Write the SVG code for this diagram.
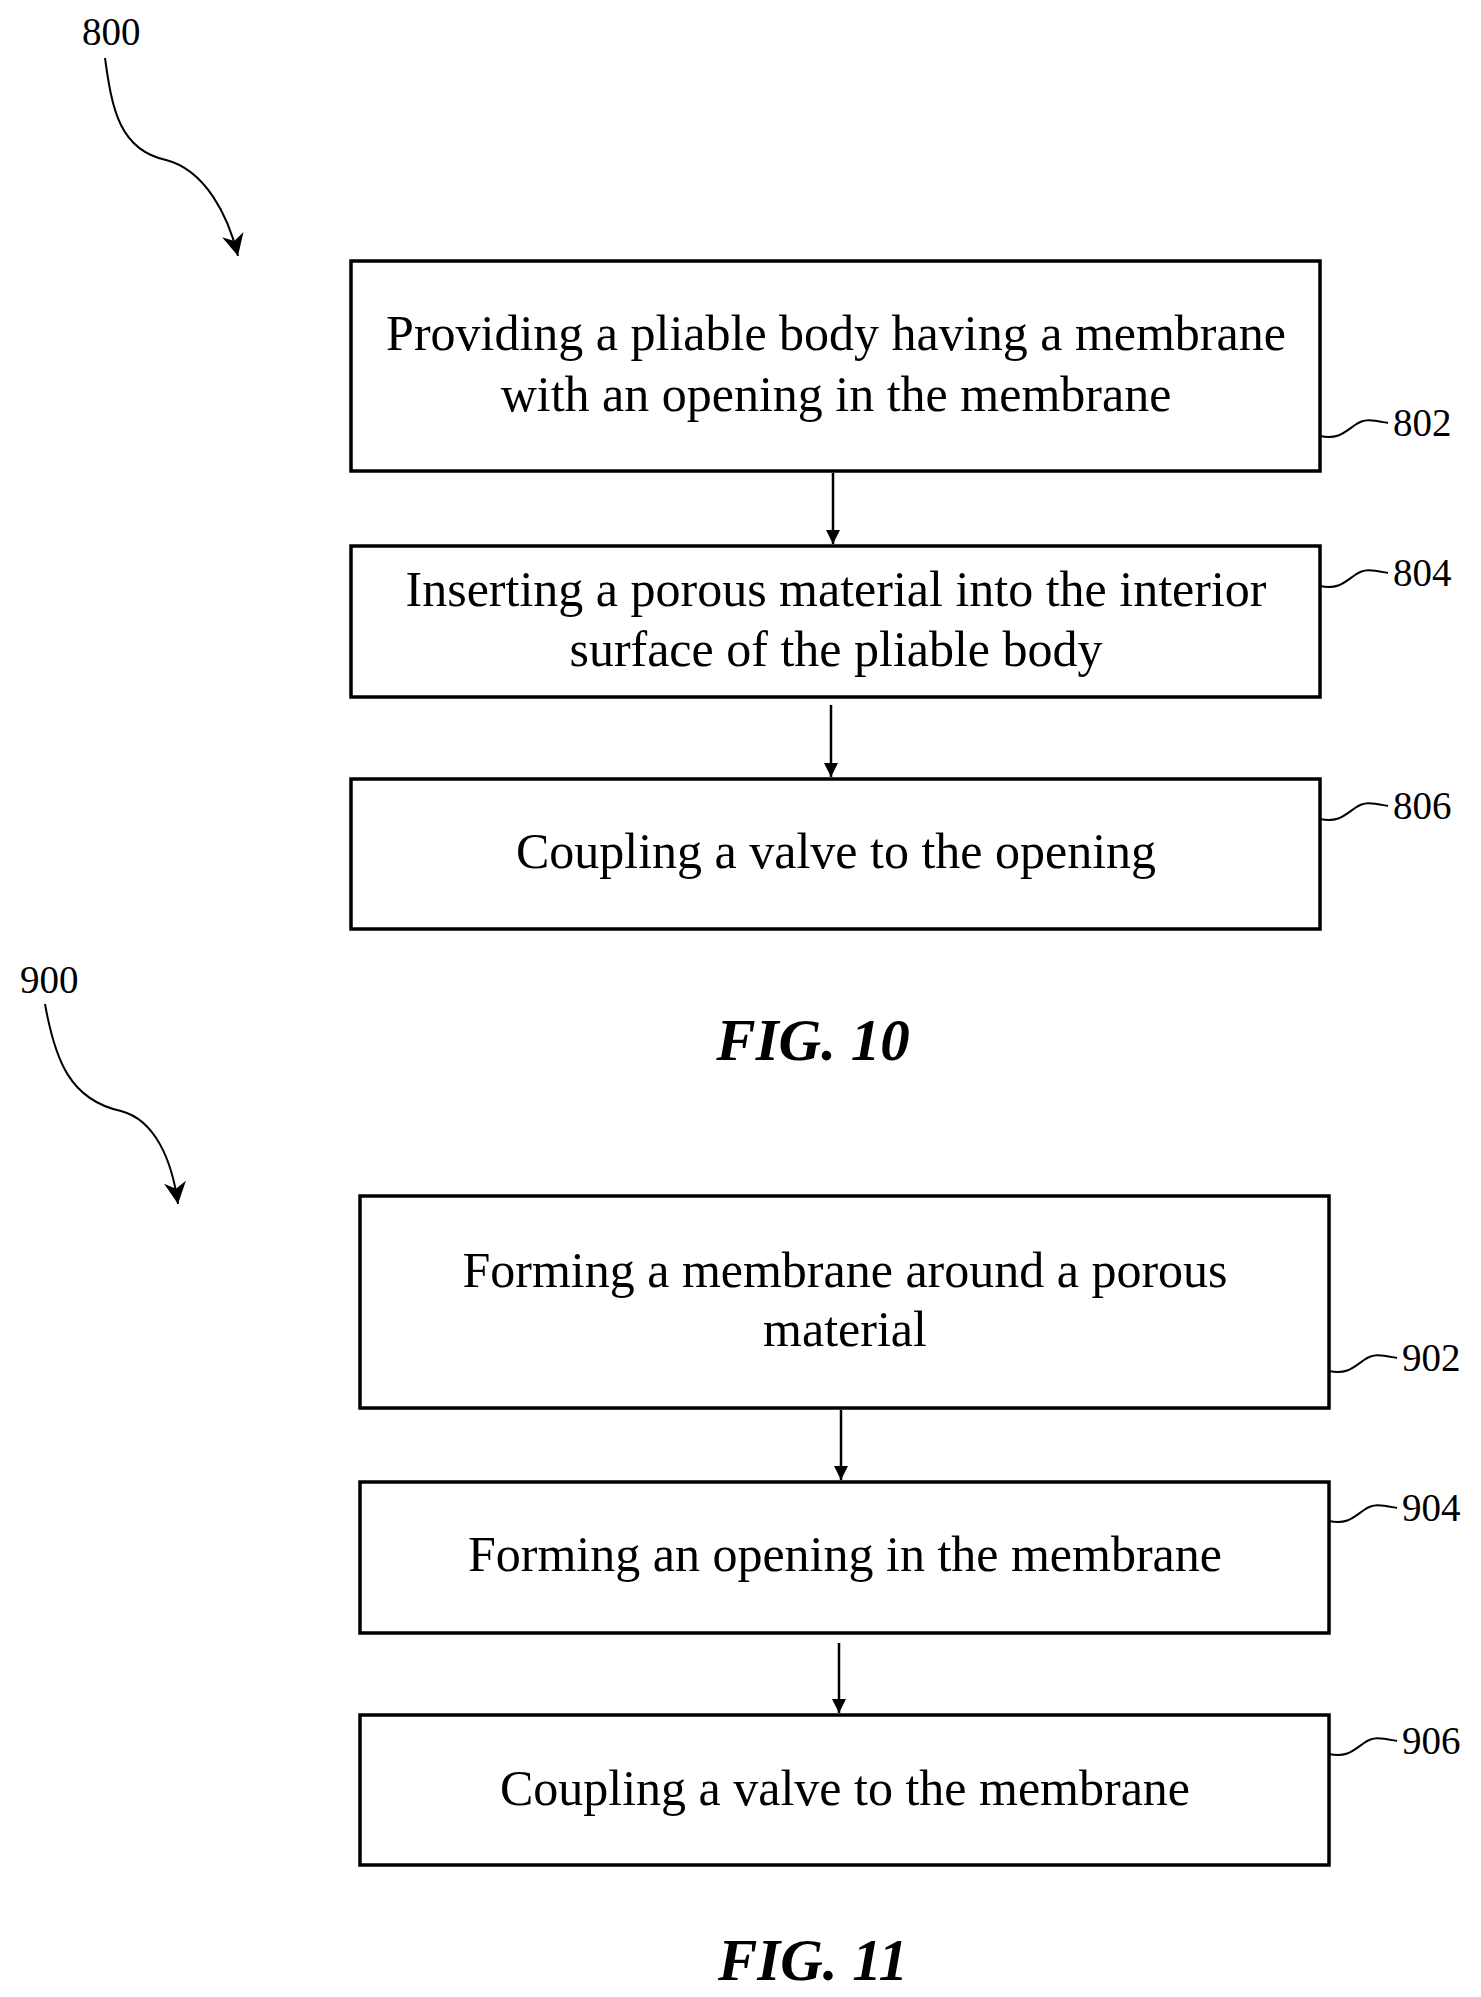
<svg xmlns="http://www.w3.org/2000/svg" width="1481" height="1997" viewBox="0 0 1481 1997">
<defs>
<marker id="ah" viewBox="0 0 10 10" refX="10" refY="5" markerWidth="20" markerHeight="14" markerUnits="userSpaceOnUse" orient="auto"><path d="M0,0 L10,5 L0,10 z" fill="#000"/></marker>
<marker id="ah2" viewBox="0 0 10 10" refX="10" refY="5" markerWidth="26" markerHeight="22" markerUnits="userSpaceOnUse" orient="auto"><path d="M0,0 L10,5 L0,10 L3,5 z" fill="#000"/></marker>
</defs>
<style>
.b{fill:#fff;stroke:#000;stroke-width:3.5}
.t{font-family:"Liberation Serif",serif;font-size:50px;text-anchor:middle;fill:#000}
.l{font-family:"Liberation Serif",serif;font-size:39px;fill:#000}
.f{font-family:"Liberation Serif",serif;font-size:59px;font-weight:bold;font-style:italic;text-anchor:middle;fill:#000}
.c{fill:none;stroke:#000;stroke-width:2}
.a{fill:none;stroke:#000;stroke-width:2.5}
</style>
<rect width="1481" height="1997" fill="#fff"/>
<g id="ref800"><text class="l" x="82" y="45">800</text><path class="c" d="M105,58 C112,110 120,150 166,160 C205,170 228,215 238,256" marker-end="url(#ah2)"/></g>
<g id="n802"><rect class="b" x="351" y="261" width="969" height="210"/><text class="t" x="836" y="350">Providing a pliable body having a membrane</text><text class="t" x="836" y="411">with an opening in the membrane</text><path class="c" d="M1320,436 C1338,440 1345,432 1355,425 C1365,418 1372,420 1388,423"/><text class="l" x="1393" y="436">802</text></g>
<g id="n804"><rect class="b" x="351" y="546" width="969" height="151"/><text class="t" x="836" y="606">Inserting a porous material into the interior</text><text class="t" x="836" y="666">surface of the pliable body</text><path class="c" d="M1320,586 C1338,590 1345,582 1355,575 C1365,568 1372,570 1388,573"/><text class="l" x="1393" y="586">804</text></g>
<g id="n806"><rect class="b" x="351" y="779" width="969" height="150"/><text class="t" x="836" y="868">Coupling a valve to the opening</text><path class="c" d="M1320,819 C1338,823 1345,815 1355,808 C1365,801 1372,803 1388,806"/><text class="l" x="1393" y="819">806</text></g>
<text class="f" x="813" y="1060">FIG. 10</text>
<g id="ref900"><text class="l" x="20" y="993">900</text><path class="c" d="M45,1004 C55,1060 70,1100 121,1111 C155,1120 172,1160 178,1204" marker-end="url(#ah2)"/></g>
<g id="n902"><rect class="b" x="360" y="1196" width="969" height="212"/><text class="t" x="845" y="1287">Forming a membrane around a porous</text><text class="t" x="845" y="1346">material</text><path class="c" d="M1329,1371 C1347,1375 1354,1367 1364,1360 C1374,1353 1381,1355 1397,1358"/><text class="l" x="1402" y="1371">902</text></g>
<g id="n904"><rect class="b" x="360" y="1482" width="969" height="151"/><text class="t" x="845" y="1571">Forming an opening in the membrane</text><path class="c" d="M1329,1521 C1347,1525 1354,1517 1364,1510 C1374,1503 1381,1505 1397,1508"/><text class="l" x="1402" y="1521">904</text></g>
<g id="n906"><rect class="b" x="360" y="1715" width="969" height="150"/><text class="t" x="845" y="1805">Coupling a valve to the membrane</text><path class="c" d="M1329,1754 C1347,1758 1354,1750 1364,1743 C1374,1736 1381,1738 1397,1741"/><text class="l" x="1402" y="1754">906</text></g>
<text class="f" x="813" y="1980">FIG. 11</text>
<g id="connectors">
<line class="a" x1="833" y1="473" x2="833" y2="544" marker-end="url(#ah)"/>
<line class="a" x1="831" y1="705" x2="831" y2="777" marker-end="url(#ah)"/>
<line class="a" x1="841" y1="1410" x2="841" y2="1480" marker-end="url(#ah)"/>
<line class="a" x1="839" y1="1643" x2="839" y2="1713" marker-end="url(#ah)"/>
</g>
</svg>
